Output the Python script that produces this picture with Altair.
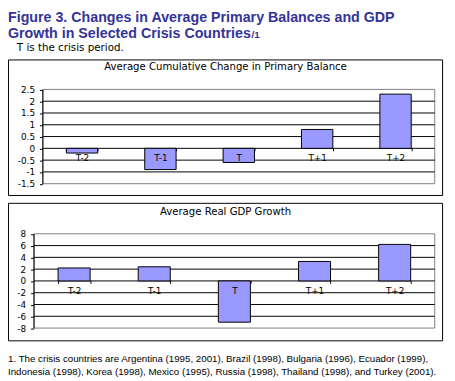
import altair as alt
import pandas as pd

# ---------------- data ----------------
periods = ["T-2", "T-1", "T", "T+1", "T+2"]
primary_balance = [-0.2, -0.9, -0.6, 0.8, 2.3]
gdp_growth = [2.2, 2.4, -7.0, 3.3, 6.2]

pb_ticks = [-1.5, -1, -0.5, 0, 0.5, 1, 1.5, 2, 2.5]
gdp_ticks = [-8, -6, -4, -2, 0, 2, 4, 6, 8]

title_lines = ["Figure 3. Changes in Average Primary Balances and GDP",
               "Growth in Selected Crisis Countries"]
title_note = "/1"
subtitle = "T is the crisis period."
panel_titles = ["Average Cumulative Change in Primary Balance",
                "Average Real GDP Growth"]
footnote_lines = [
    "1. The crisis countries are Argentina (1995, 2001), Brazil (1998), Bulgaria (1996), Ecuador (1999),",
    "Indonesia (1998), Korea (1998), Mexico (1995), Russia (1998), Thailand (1998), and Turkey (2001).",
]

# ---------------- style ----------------
W, H = 447, 373
BAR = "#9999FF"
BLUE = "#333399"
GRAY = "#808080"
AXFONT = "DejaVu Sans"


def text_layer(txt, x, y, size, font, color="black", weight="normal", align="left"):
    return alt.Chart(pd.DataFrame({"t": [txt]})).mark_text(
        align=align, baseline="alphabetic", font=font, fontSize=size,
        fontWeight=weight, color=color
    ).encode(x=alt.value(x), y=alt.value(y), text="t:N")


def panel(values, ticks, x_range, y_range, zero_px, box, title, title_y):
    df = pd.DataFrame({"period": periods, "value": values})
    grid = pd.DataFrame({"value": ticks[1:-1]})
    y_scale = alt.Scale(domain=[ticks[0], ticks[-1]], range=y_range, nice=False, zero=False)
    x_scale = alt.Scale(domain=periods, range=x_range, paddingInner=0.6, paddingOuter=0.3)
    x_axis = alt.Axis(orient="bottom", offset=zero_px - H, domain=False, grid=False,
                      ticks=True, tickSize=3, tickColor="black", tickBand="extent",
                      labelPadding=3, labelFont=AXFONT, labelFontSize=9,
                      labelColor="black", labelAngle=0, title=None, zindex=2)
    y_axis = alt.Axis(orient="left", offset=-(x_range[0] - 0.5), values=ticks,
                      labelExpr="'' + datum.value", domain=True, domainColor="black",
                      ticks=True, tickSize=3, tickColor="black", grid=False,
                      labelPadding=5, labelFont=AXFONT, labelFontSize=9,
                      labelColor="black", title=None, zindex=2)

    outer = alt.Chart(pd.DataFrame({"a": [0]})).mark_rect(
        filled=False, stroke="black", strokeWidth=1
    ).encode(x=alt.value(box[0]), x2=alt.value(box[1]),
             y=alt.value(box[2]), y2=alt.value(box[3]))

    gridlines = alt.Chart(grid).mark_rule(color="black", strokeWidth=1).encode(
        y=alt.Y("value:Q", scale=y_scale, axis=y_axis),
        x=alt.value(x_range[0]), x2=alt.value(x_range[1]))

    border = alt.Chart(pd.DataFrame({"a": [0]})).mark_rect(
        filled=False, stroke=GRAY, strokeWidth=1
    ).encode(y=alt.datum(ticks[-1]), y2=alt.datum(ticks[0]),
             x=alt.value(x_range[0]), x2=alt.value(x_range[1]))

    bars = alt.Chart(df).mark_bar(fill=BAR, stroke="black", strokeWidth=1).encode(
        x=alt.X("period:N", sort=periods, scale=x_scale, axis=x_axis),
        y=alt.Y("value:Q", scale=y_scale, axis=y_axis))

    ttl = alt.Chart(pd.DataFrame({"t": [title]})).mark_text(
        align="center", baseline="middle", font=AXFONT, fontSize=10.3, color="black"
    ).encode(x=alt.value((box[0] + box[1]) / 2), y=alt.value(title_y), text="t:N")

    return alt.layer(outer, border, gridlines, bars, ttl)


top = panel(primary_balance, pb_ticks, [35.5, 434.5], [175.5, 79.5], 139,
            (0.5, 442.5, 49.5, 187.5), panel_titles[0], 57)
bottom = panel(gdp_growth, gdp_ticks, [26.5, 434.5], [322.5, 226.5], 274,
               (0.5, 442.5, 195.5, 335.5), panel_titles[1], 204)

header = [
    text_layer(title_lines[0], 0, 11, 14.5, "Liberation Sans", BLUE, "bold"),
    text_layer(title_lines[1], 0, 27, 14.5, "Liberation Sans", BLUE, "bold"),
    text_layer(title_note, 248, 27, 10, "Liberation Sans", BLUE, "bold"),
    text_layer(subtitle, 9, 40.5, 10.5, "DejaVu Sans", "black"),
]
footer = [
    text_layer(footnote_lines[0], 0, 357, 9.9, "Liberation Sans", "black"),
    text_layer(footnote_lines[1], 0, 370, 9.9, "Liberation Sans", "black"),
]

chart = alt.layer(*header, top, bottom, *footer).resolve_scale(
    x="independent", y="independent"
).properties(
    width=W, height=H, padding=0,
    autosize=alt.AutoSizeParams(type="none"),
).configure_view(stroke=None)

chart.save("out.html", embed_options={"renderer": "svg", "actions": False})
